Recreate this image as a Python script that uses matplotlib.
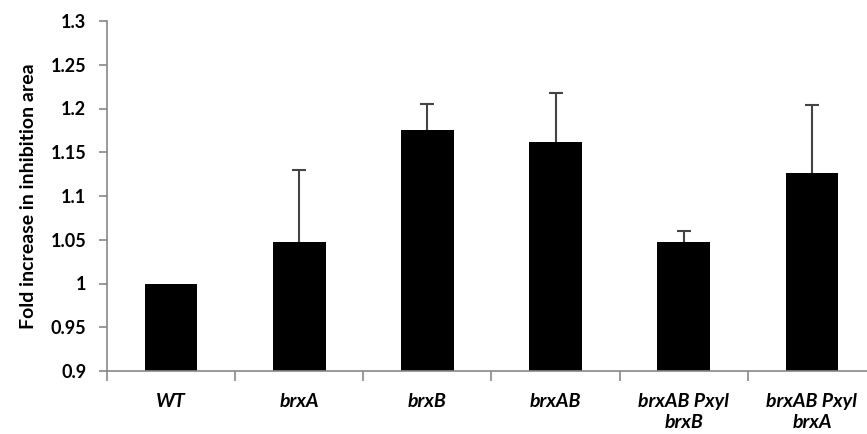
import numpy as np
import matplotlib
matplotlib.use("Agg")
from matplotlib import pyplot as plt

plt.rcParams['font.family'] = ['Lato', 'DejaVu Sans']

strains = ['WT', 'brxA', 'brxB', 'brxAB', 'brxAB Pxyl\nbrxB', 'brxAB Pxyl\nbrxA']
fold = [1.0, 1.047, 1.176, 1.162, 1.047, 1.126]
err = [0.0, 0.083, 0.029, 0.056, 0.013, 0.078]

W, H = 867, 434
fig = plt.figure(figsize=(W / 100, H / 100), dpi=100)
ax = fig.add_axes([107 / W, 63 / H, (876 - 107) / W, (371 - 21) / H])

x = np.arange(len(strains))
ax.bar(x, fold, width=0.41, color='black', zorder=2)
# symmetric bars drawn behind, so only the upper half shows
has_err = np.array(err) > 0
ax.errorbar(x[has_err], np.array(fold)[has_err], yerr=np.array(err)[has_err],
            fmt='none', ecolor='#444444', elinewidth=1.5, capsize=5,
            capthick=1.5, zorder=1)

ax.set_xlim(-0.5, 5.5)
ax.set_ylim(0.9, 1.3)
ax.set_yticks(np.arange(0.9, 1.301, 0.05))
ax.set_yticklabels(['0.9', '0.95', '1', '1.05', '1.1', '1.15', '1.2', '1.25', '1.3'],
                   fontsize=13, fontweight='bold')

ax.set_xticks(np.arange(-0.5, 5.6, 1.0))
ax.set_xticklabels([])
ax.set_xticks(x, minor=True)
ax.set_xticklabels(strains, minor=True, fontsize=14, fontweight='bold',
                   fontstyle='italic', va='top', linespacing=1.3)
ax.tick_params(axis='x', which='minor', length=0, pad=16)
ax.tick_params(axis='x', which='major', length=7, width=1.2, color='#888888')
ax.tick_params(axis='y', length=6, width=1.2, color='#888888', pad=9)

for side in ['top', 'right']:
    ax.spines[side].set_visible(False)
for side in ['left', 'bottom']:
    ax.spines[side].set_color('#888888')
    ax.spines[side].set_linewidth(1.2)

ax.set_ylabel('Fold increase in inhibition area', fontsize=14, fontweight='bold',
              labelpad=10)

fig.savefig('out.png', dpi=100)
